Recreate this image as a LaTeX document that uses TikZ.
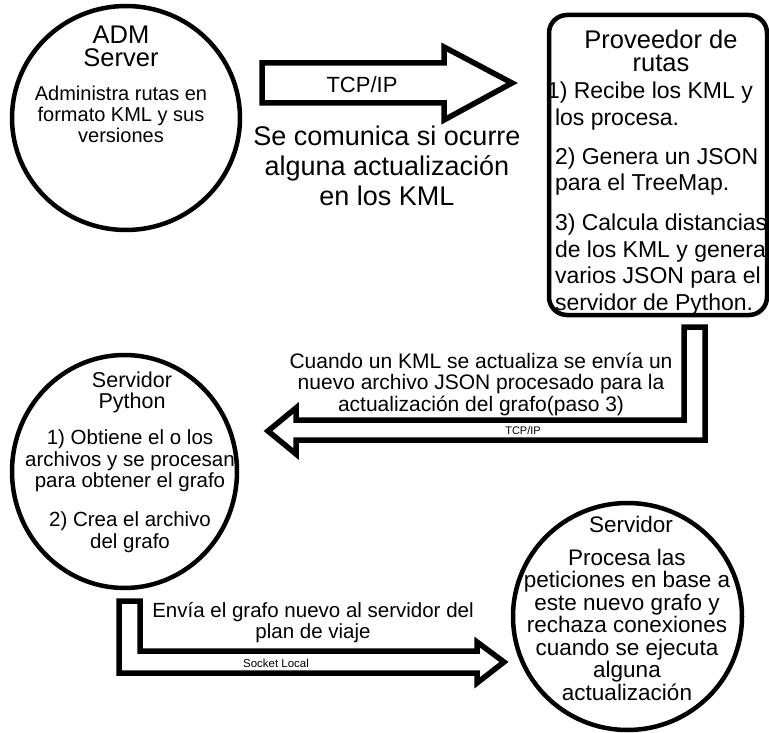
\documentclass[tikz,border=0pt]{standalone}
\usepackage{fontspec}
\setmainfont{Liberation Sans}
\usetikzlibrary{shapes.geometric}
\newcommand{\fsz}[2]{\fontsize{#1}{#2}\selectfont}
\begin{document}
\begin{tikzpicture}[x=1pt,y=-1pt,
  txt/.style={inner sep=0pt, outer sep=0pt, anchor=base, align=center},
  circ/.style={draw, line width=4.5pt, ellipse, inner sep=0pt},
  blockarrow/.style={draw, line width=5.5pt, miter limit=20, fill=white}]
\useasboundingbox (0,0) rectangle (769,733);

% ADM Server
\node[circ, minimum width=228pt, minimum height=224pt] (adm) at (126,118) {};
\node[txt, font=\fsz{25.5}{23}] (admt) at (121,67) {ADM\\Server};
\node[txt, font=\fsz{20}{21.5}] (admb) at (121,143) {Administra rutas en\\formato KML y sus\\versiones};

% top arrow
\draw[blockarrow] (262,63) -- (444,63) -- (444,47) -- (512,83) -- (444,120) -- (444,103) -- (262,103) -- cycle;
\node[txt, font=\fsz{22}{22}] (tcp1) at (362,93) {TCP/IP};
\node[txt, font=\fsz{27}{30}] (comm) at (387,206) {Se comunica si ocurre\\alguna actualización\\en los KML};

% Proveedor de rutas
\node[txt, font=\fsz{25.5}{23}] (provt) at (661,72) {Proveedor de\\rutas};
\node[txt, anchor=base west, align=left, font=\fsz{23}{26.5}] (provb) at (555,310)
  {\hspace*{-8pt}1) Recibe los KML y\\los procesa.\\[12.5pt]2) Genera un JSON\\para el TreeMap.\\[13.5pt]3) Calcula distancias\\de los KML y genera\\varios JSON para el\\servidor de Python.};
\draw[line width=4.5pt, rounded corners=18pt, fill=none] (549,15) rectangle (767,315);

% middle arrow
\draw[blockarrow] (684,327) -- (705,327) -- (705,440) -- (296,440) -- (296,454) -- (268,431) -- (296,408) -- (296,420) -- (684,420) -- cycle;
\node[txt, font=\fsz{21}{21.5}] (cuando) at (481,411) {Cuando un KML se actualiza se envía un\\nuevo archivo JSON procesado para la\\actualización del grafo(paso 3)};
\node[txt, font=\fsz{11}{11}] (tcp2) at (523,434) {TCP/IP};

% Servidor Python
\node[circ, minimum width=225pt, minimum height=233pt] (py) at (124.5,471.5) {};
\node[txt, font=\fsz{21.5}{21}] (pyt) at (132,408) {Servidor\\Python};
\node[txt, font=\fsz{20.5}{21.5}] (pyb) at (130,548) {1) Obtiene el o los\\archivos y se procesan\\para obtener el grafo\\[17.5pt]2) Crea el archivo\\del grafo};

% bottom arrow
\draw[blockarrow] (119,601) -- (140,601) -- (140,651) -- (477,651) -- (477,642) -- (504,662) -- (477,683) -- (477,673) -- (119,673) -- cycle;
\node[txt, font=\fsz{20.5}{21}] (envia) at (313,638) {Envía el grafo nuevo al servidor del\\plan de viaje};
\node[txt, font=\fsz{11.5}{11.5}] (sock) at (276,667) {Socket Local};

% Servidor
\node[circ, minimum width=229pt, minimum height=227pt] (srv) at (627.5,616.5) {};
\node[txt, font=\fsz{22.5}{22.5}] (srvt) at (631,532) {Servidor};
\node[txt, font=\fsz{22.5}{22.5}] (srvb) at (627,700) {Procesa las\\peticiones en base a\\este nuevo grafo y\\rechaza conexiones\\cuando se ejecuta\\alguna\\actualización};
\end{tikzpicture}
\end{document}
